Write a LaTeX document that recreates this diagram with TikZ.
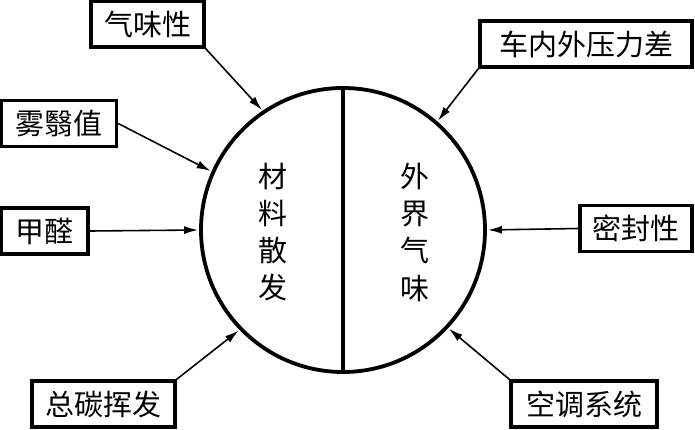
\documentclass[tikz,border=0pt]{standalone}
\usepackage{fontspec}
\setmainfont{Noto Sans CJK SC}
\usetikzlibrary{positioning,arrows.meta}

\begin{document}
\begin{tikzpicture}[x=1pt, y=-1pt,
    factor/.style={draw, line width=3.4pt, inner sep=0pt, minimum height=46pt, font=\fontsize{29}{37}\selectfont},
    feed/.style={-{Latex[length=14pt,width=8pt]}, line width=1.6pt, shorten >=1pt},
    inside/.style={align=center, font=\fontsize{29}{37.3}\selectfont}]
    \useasboundingbox (0,0) rectangle (695,430);
    \node (circ) [draw, circle, line width=3.8pt, minimum size=284pt, inner sep=0pt] at (343,230) {};
    \draw [line width=3.2pt] (circ.north) -- (circ.south);
    \node (material) [inside] at (273,232) {材\\料\\散\\发};
    \node (outside) [inside] at (415,232) {外\\界\\气\\味};
    \node (odor) [factor, minimum width=113pt] at (147.5,24) {气味性};
    \node (fog) [factor, minimum width=115pt] at (59,123.5) {雾翳值};
    \node (formal) [factor, minimum width=87pt] at (44.5,231) {甲醛};
    \node (tvoc) [factor, minimum width=143pt] at (103.5,404) {总碳挥发};
    \node (press) [factor, minimum width=212pt] at (586,44) {车内外压力差};
    \node (seal) [factor, minimum width=112pt] at (636,228.5) {密封性};
    \node (ac) [factor, minimum width=146pt] at (584,404) {空调系统};
    \draw [feed] (odor.south east) -- (circ.124);
    \draw [feed] (fog.east) -- (circ.156);
    \draw [feed] (formal.east) -- (circ.180);
    \draw [feed] (tvoc.north east) -- (circ.224);
    \draw [feed] (press.south west) -- (circ.49);
    \draw [feed] (seal.west) -- (circ.0);
    \draw [feed] (ac.north west) -- (circ.317);
\end{tikzpicture}
\end{document}
